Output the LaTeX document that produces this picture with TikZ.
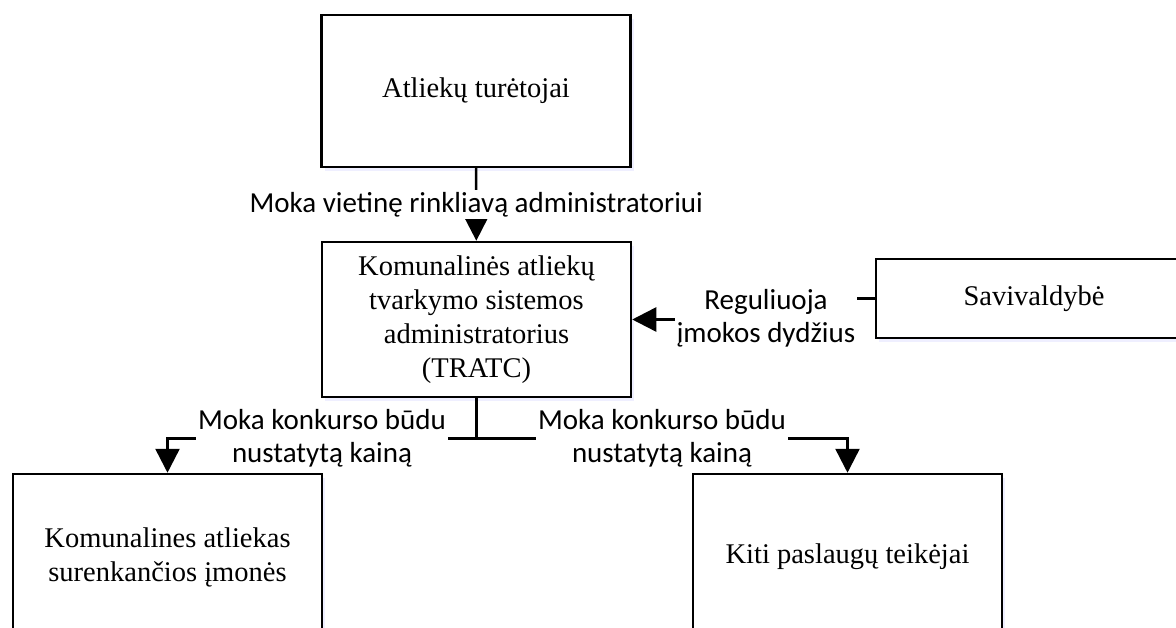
\documentclass[tikz,border=0pt]{standalone}
\usepackage{fontspec}
\setmainfont{Liberation Serif}
\newfontfamily\calibri{Carlito}
\usepackage{tikz}
\usetikzlibrary{positioning}
\usetikzlibrary{arrows.meta}
\usetikzlibrary{calc}
\usetikzlibrary{shadows}

\tikzset{
  box/.style={draw, line width=2.5pt, fill=white, align=center, minimum width=309pt,
    font=\fontsize{28.5}{34}\selectfont,
    drop shadow={fill=blue!30!white, opacity=0.2, shadow xshift=3pt, shadow yshift=-4pt}},
  conn/.style={line width=2.5pt, -{Triangle[width=24pt,length=24pt]}},
  lbl/.style={fill=white, align=center, inner sep=2pt, font=\calibri\fontsize{29}{33}\selectfont},
}

\begin{document}
\begin{tikzpicture}[x=1pt,y=-1pt]
\clip (0,0) rectangle (1176,628);
\fill[white] (0,0) rectangle (1176,628);

\node[box, minimum height=152pt] (holders) at (476,91) {Atliekų turėtojai};
\node[box, minimum height=155pt] (tratc) at (476.5,319.5) {Komunalinės atliekų\\tvarkymo sistemos\\administratorius\\(TRATC)};
\node[box, minimum width=316pt, minimum height=79pt] (sav) at (1034,298.5) {Savivaldybė};
\node[box, minimum height=166pt] (collect) at (167.5,557) {Komunalines atliekas\\surenkančios įmonės};
\node[box, minimum height=166pt] (others) at (847.5,557) {Kiti paslaugų teikėjai};

% holders pay the administrator
\draw[conn] (holders) -- node[lbl] {Moka vietinę rinkliavą administratoriui} (tratc);

% municipality regulates
\coordinate (bend) at ($(sav.west)!.5!(tratc.east)$);
\draw[conn] (sav.west) -| (bend) |- (tratc.east);
\node[lbl] (regnote) at (766,318) {Reguliuoja\\įmokos dydžius};

% administrator pays the service providers
\draw[line width=2.5pt] (tratc.south) -- ++(0,40) coordinate (fork);
\draw[conn] (fork) -| node[lbl, pos=0.25] {Moka konkurso būdu\\nustatytą kainą} (collect.north);
\draw[conn] (fork) -| node[lbl, pos=0.25] {Moka konkurso būdu\\nustatytą kainą} (others.north);
\end{tikzpicture}
\end{document}
